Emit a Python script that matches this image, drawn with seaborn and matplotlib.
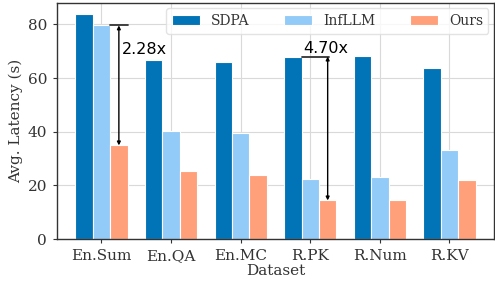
import pandas as pd
import matplotlib.pyplot as plt
import seaborn as sns

datasets = ["En.Sum", "En.QA", "En.MC", "R.PK", "R.Num", "R.KV"]
methods = ["SDPA", "InfLLM", "Ours"]
sdpa = [83.7, 66.9, 65.9, 68.0, 68.3, 63.9]
infllm = [79.6, 40.4, 39.6, 22.4, 23.2, 33.3]
ours = [34.9, 25.4, 23.8, 14.4, 14.6, 22.2]

palette = {"SDPA": "#0173b7", "InfLLM": "#93cbf8", "Ours": "#ffa07a"}

rows = []
for i, d in enumerate(datasets):
    for m, vals in zip(methods, [sdpa, infllm, ours]):
        rows.append({"Dataset": d, "Method": m, "Latency": vals[i]})
df = pd.DataFrame(rows)

sns.set_theme(style="whitegrid")
plt.rcParams["font.family"] = ["DejaVu Serif"]
plt.rcParams["axes.edgecolor"] = "#333333"
plt.rcParams["text.color"] = "#333333"
plt.rcParams["axes.labelcolor"] = "#333333"
plt.rcParams["xtick.color"] = "#333333"
plt.rcParams["ytick.color"] = "#333333"

fig, ax = plt.subplots(figsize=(4.95, 2.86), dpi=100)
sns.barplot(data=df, x="Dataset", y="Latency", hue="Method", palette=palette,
            width=0.75, saturation=1, edgecolor="white", linewidth=0.8, ax=ax)

ax.set_ylim(0, 88)
ax.set_xlim(-0.64, 5.64)
ax.set_yticks([0, 20, 40, 60, 80])
ax.set_xlabel("Dataset", fontsize=11, labelpad=1)
ax.set_ylabel("Avg. Latency (s)", fontsize=11, labelpad=3)
ax.tick_params(axis="both", labelsize=11, length=3, width=0.8, pad=4,
               bottom=True, left=True)
for s in ax.spines.values():
    s.set_linewidth(1.0)
ax.grid(color="#d9d9d9", linewidth=0.8)

ax.legend(loc="upper right", ncol=3, fontsize=10, handlelength=2.0,
          columnspacing=2.5, borderaxespad=0.4, frameon=True,
          framealpha=0.8, edgecolor="#dddddd", title=None)

# speedup arrows
bw = 0.25
x1 = 0 + bw
ax.plot([x1 - bw * 0.5, x1 + bw * 0.5], [infllm[0], infllm[0]], color="#333333", lw=1.3)
ax.annotate("", xy=(x1, ours[0]), xytext=(x1, infllm[0]),
            arrowprops=dict(arrowstyle="<|-|>", color="black", lw=1.0,
                            mutation_scale=5, shrinkA=0, shrinkB=0))
ax.text(x1 + 0.04, 70.5, f"{infllm[0] / ours[0]:.2f}x", fontsize=11.5,
        family="DejaVu Sans", color="black", ha="left", va="center")

x4 = 3 + bw
ax.plot([3 - bw * 0.5, x4 + bw * 0.1], [sdpa[3], sdpa[3]], color="#333333", lw=1.3)
ax.annotate("", xy=(x4, ours[3]), xytext=(x4, sdpa[3]),
            arrowprops=dict(arrowstyle="<|-|>", color="black", lw=1.0,
                            mutation_scale=5, shrinkA=0, shrinkB=0))
ax.text(3 + 0.22, sdpa[3] + 0.3, "4.70x", fontsize=11.5,
        family="DejaVu Sans", color="black", ha="center", va="bottom")

fig.subplots_adjust(left=0.115, right=0.998, top=0.99, bottom=0.164)
plt.savefig("out.png", dpi=100)
